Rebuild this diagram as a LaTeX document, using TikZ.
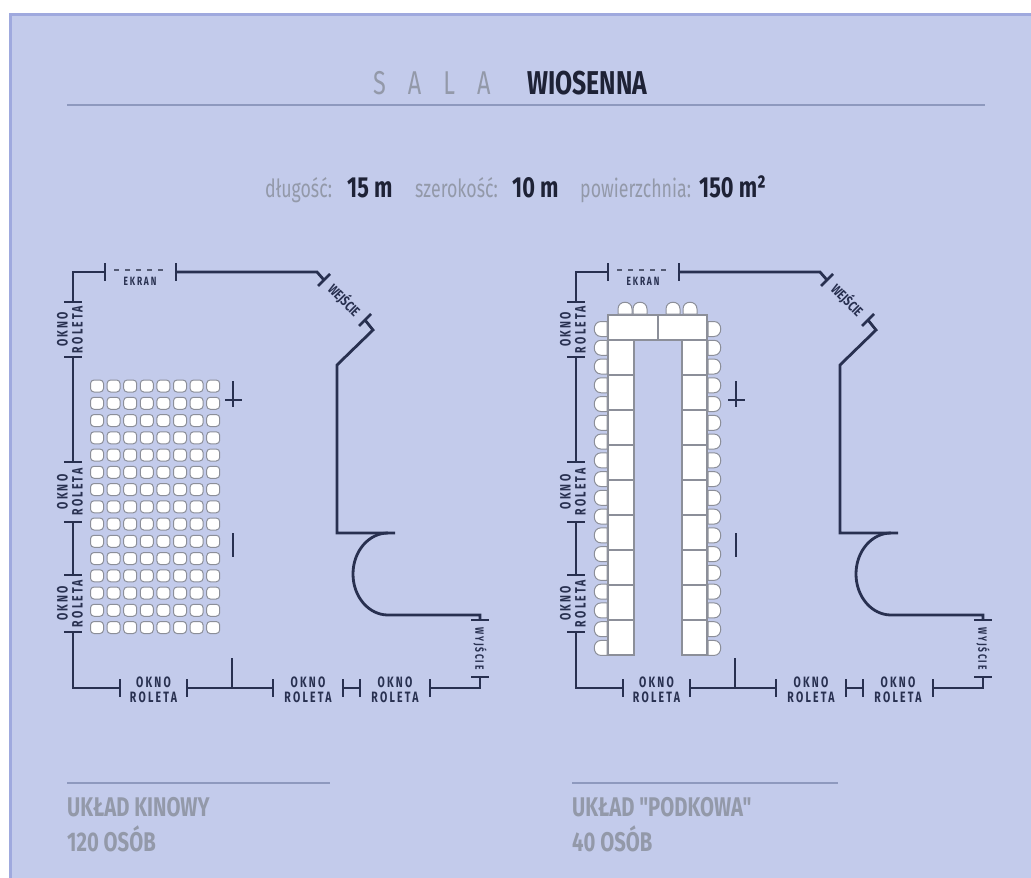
\documentclass[tikz,border=0pt]{standalone}
\usepackage{fontspec}
\newfontfamily\salafont[FakeStretch=0.75]{Fira Sans}
\newfontfamily\salathin[FakeStretch=0.71]{Fira Sans}
\newfontfamily\salasmall[FakeStretch=0.7,LetterSpace=15]{Fira Sans}

\definecolor{salabg}{HTML}{C3CBEB}
\definecolor{salaframe}{HTML}{9FA9DE}
\definecolor{salawall}{HTML}{283050}
\definecolor{salagray}{HTML}{9399A9}
\definecolor{salarule}{HTML}{8E99BE}
\definecolor{salaink}{HTML}{1E2236}
\definecolor{salaseat}{HTML}{8C8F99}

\tikzset{
  wallline/.style={draw=salawall, line width=2.8pt},
  seat/.style={draw=salaseat, fill=white, line width=1pt, rounded corners=3.5pt},
  desk/.style={draw=salaseat, fill=white, line width=1.1pt},
  chair/.style={draw=salaseat, fill=white, line width=1pt},
  okno/.style={text=salawall, font=\salasmall\bfseries\fontsize{15}{15}\selectfont, align=center, inner sep=0pt},
  drzwi/.style={text=salawall, font=\salasmall\bfseries\fontsize{12}{13}\selectfont, inner sep=0pt},
  skos/.style={text=salawall, font=\salafont\bfseries\fontsize{14}{14}\selectfont, inner sep=0pt},
  napis/.style={inner sep=0pt, anchor=base west}
}

% one room, walls and openings
\newcommand{\salaplan}[1]{%
\draw[wallline] (105,272) -- (73,272) -- (73,302);
\draw[wallline] (73,357) -- (73,462);
\draw[wallline] (73,522) -- (73,575);
\draw[wallline] (73,632) -- (73,688) -- (120,688);
\draw[wallline] (187,688) -- (273,688);
\draw[wallline] (343,688) -- (360,688);
\draw[wallline] (430,688) -- (480,688) -- (480,677);
\draw[wallline] (480,620) -- (480,615) -- (388,615) arc[start angle=270, end angle=90, x radius=35pt, y radius=41pt];
\draw[wallline] (395,533) -- (337,533) -- (337,365) -- (373,330) -- (365,320);
\draw[wallline] (324,280) -- (317,272) -- (176,272);
% ticks
\foreach \x in {105,176} \draw[wallline] (\x,263) -- (\x,281);
\foreach \x in {120,187,273,343,360,430} \draw[wallline] (\x,679) -- (\x,697);
\foreach \y in {302,357,462,522,575,632} \draw[wallline] (64,\y) -- (82,\y);
\foreach \y in {620,677} \draw[wallline] (471,\y) -- (489,\y);
\draw[wallline] (318,286) -- (330,274);
\draw[wallline] (359,326) -- (371,314);
% partition
\draw[wallline] (232,658) -- (232,688);
\draw[wallline] (233,381) -- (233,407);
\draw[wallline] (225,400) -- (242,400);
\draw[wallline] (233,533) -- (233,557);
% labels
\draw[salawall!80, line width=1.2pt, dash pattern=on 5pt off 6pt] (114,270) -- (167,270);
\node[drzwi] (#1-ekran) at (140,281) {EKRAN};
\node[skos, rotate=-45] (#1-wejscie) at (344.5,300) {WEJŚCIE};
\node[drzwi, rotate=-90] (#1-wyjscie) at (480,648.5) {WYJŚCIE};
\node[okno, rotate=90] (#1-okno1) at (70,329.5) {OKNO\\ROLETA};
\node[okno, rotate=90] (#1-okno2) at (70,492) {OKNO\\ROLETA};
\node[okno, rotate=90] (#1-okno3) at (70,603.5) {OKNO\\ROLETA};
\node[okno] (#1-okno4) at (153.5,690) {OKNO\\ROLETA};
\node[okno] (#1-okno5) at (308,690) {OKNO\\ROLETA};
\node[okno] (#1-okno6) at (395,690) {OKNO\\ROLETA};
}

\begin{document}
\begin{tikzpicture}[x=1pt,y=-1pt]
\useasboundingbox (0,0) rectangle (1031,878);
\fill[white] (0,0) rectangle (1031,878);
\fill[salabg] (9,13) rectangle (1031,878);
\draw[salaframe, line width=3pt] (10.5,878) -- (10.5,14.5) -- (1031,14.5);

% title
\node[napis] (sala) at (373,94) {\salathin\fontsize{33}{33}\selectfont\color{salagray}S\hspace{22pt}A\hspace{22pt}L\hspace{22pt}A};
\node[napis] (wiosenna) at (527,94) {\salafont\bfseries\fontsize{33}{33}\selectfont\color{salaink}WIOSENNA};
\draw[salarule, line width=2.2pt] (67,105) -- (985,105);

% dimensions
\node[napis] (dlugosc) at (265,197) {\salathin\fontsize{25}{25}\selectfont\color{salagray}długość:};
\node[napis] (dlugoscval) at (347,197) {\salafont\bfseries\fontsize{29}{29}\selectfont\color{salaink}15 m};
\node[napis] (szerokosc) at (415,197) {\salathin\fontsize{25}{25}\selectfont\color{salagray}szerokość:};
\node[napis] (szerokoscval) at (512,197) {\salafont\bfseries\fontsize{29}{29}\selectfont\color{salaink}10 m};
\node[napis] (pow) at (580,197) {\salathin\fontsize{25}{25}\selectfont\color{salagray}powierzchnia:};
\node[napis] (powval) at (699,197) {\salafont\bfseries\fontsize{29}{29}\selectfont\color{salaink}150 m²};

% cinema layout
\salaplan{kino}
\foreach \i in {0,...,7}
\foreach \j in {0,...,14}
\draw[seat] ({90.5+16.6*\i},{380+17.25*\j}) rectangle +(13,12);

% horseshoe layout
\begin{scope}[shift={(503,0)}]
\salaplan{podkowa}
\end{scope}
\draw[desk] (608,315) rectangle (658,340);
\draw[desk] (658,315) rectangle (707,340);
\foreach \k in {0,...,8} {
  \draw[desk] (608,{340+35*\k}) rectangle +(26,35);
  \draw[desk] (682,{340+35*\k}) rectangle +(25,35);
}
\foreach \k [evaluate=\k as \cy using 329+18.76*\k] in {0,...,17} {
  \draw[chair] (607,{\cy-7.5}) -- (601,{\cy-7.5}) .. controls (592,{\cy-7.5}) and (592,{\cy+7.5}) .. (601,{\cy+7.5}) -- (607,{\cy+7.5}) -- cycle;
  \draw[chair] (708,{\cy-7.5}) -- (714,{\cy-7.5}) .. controls (723,{\cy-7.5}) and (723,{\cy+7.5}) .. (714,{\cy+7.5}) -- (708,{\cy+7.5}) -- cycle;
}
\foreach \cx in {625,640,673,690}
\draw[chair] ({\cx-7},314) -- ({\cx-7},309) .. controls ({\cx-7},300) and ({\cx+7},300) .. ({\cx+7},309) -- ({\cx+7},314) -- cycle;

% captions
\draw[salarule, line width=2pt] (67,783) -- (330,783);
\node[napis] (kinowy) at (67,816) {\salafont\bfseries\fontsize{27}{27}\selectfont\color{salagray}UKŁAD KINOWY};
\node[napis] (kinowyosob) at (67,851) {\salafont\bfseries\fontsize{27}{27}\selectfont\color{salagray}120 OSÓB};
\draw[salarule, line width=2pt] (572,783) -- (838,783);
\node[napis] (podkowa) at (572,816) {\salafont\bfseries\fontsize{27}{27}\selectfont\color{salagray}UKŁAD "PODKOWA"};
\node[napis] (podkowaosob) at (572,851) {\salafont\bfseries\fontsize{27}{27}\selectfont\color{salagray}40 OSÓB};

\end{tikzpicture}
\end{document}
